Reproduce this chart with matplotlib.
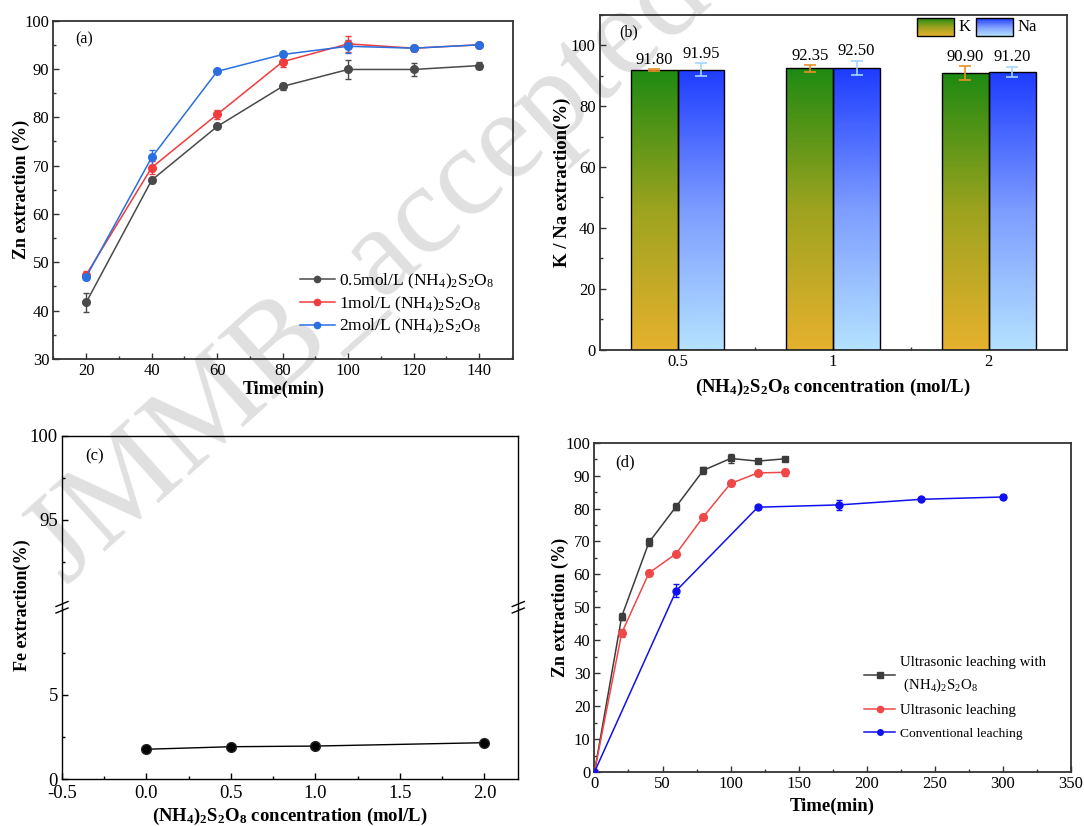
import numpy as np
import matplotlib
matplotlib.use("Agg")
import matplotlib.pyplot as plt
from matplotlib.colors import LinearSegmentedColormap
from matplotlib.lines import Line2D
from matplotlib.patches import Rectangle
from matplotlib.ticker import MultipleLocator

plt.rcParams["font.family"] = ["Liberation Serif", "DejaVu Serif"]
plt.rcParams["mathtext.fontset"] = "custom"
plt.rcParams["mathtext.rm"] = "Liberation Serif"
plt.rcParams["mathtext.it"] = "Liberation Serif:italic"
plt.rcParams["mathtext.bf"] = "Liberation Serif:bold"

PS = "(NH$_4$)$_2$S$_2$O$_8$"
PS_BOLD = r"(NH$_\mathbf{4}$)$_\mathbf{2}$S$_\mathbf{2}$O$_\mathbf{8}$"

# (a) Zn extraction vs time for three persulfate concentrations
time_a = [20, 40, 60, 80, 100, 120, 140]
zn_05 = [41.7, 67.0, 78.1, 86.4, 89.9, 89.9, 90.7]
zn_05_err = [2.0, 0.6, 0.4, 0.8, 1.9, 1.3, 0.7]
zn_1 = [47.4, 69.6, 80.6, 91.5, 95.2, 94.3, 95.0]
zn_1_err = [0.8, 1.3, 1.0, 1.0, 1.6, 0.5, 0.3]
zn_2 = [47.0, 71.7, 89.5, 93.0, 94.7, 94.3, 95.0]
zn_2_err = [0.6, 1.6, 0.2, 0.4, 1.3, 0.5, 0.3]
labels_a = ["0.5mol/L " + PS, "1mol/L " + PS, "2mol/L " + PS]

# (b) K / Na extraction
conc_b = ["0.5", "1", "2"]
k_ext = [91.80, 92.35, 90.90]
k_err = [0.3, 1.1, 2.2]
na_ext = [91.95, 92.50, 91.20]
na_err = [2.1, 2.3, 1.7]

# (c) Fe extraction
conc_c = [0.0, 0.5, 1.0, 2.0]
fe_ext = [1.77, 1.92, 1.96, 2.16]

# (d) leaching methods compared
t_us_ps = [0, 20, 40, 60, 80, 100, 120, 140]
zn_us_ps = [0, 47.2, 69.7, 80.6, 91.6, 95.2, 94.4, 95.1]
zn_us_ps_err = [0, 1.0, 1.2, 1.0, 1.0, 1.5, 0.5, 0.4]
t_us = [0, 20, 40, 60, 80, 100, 120, 140]
zn_us = [0, 42.2, 60.4, 66.3, 77.5, 87.6, 90.8, 91.0]
zn_us_err = [0, 1.2, 0.8, 0.8, 0.5, 0.9, 0.3, 1.0]
t_conv = [0, 60, 120, 180, 240, 300]
zn_conv = [0, 55.0, 80.4, 81.1, 82.8, 83.5]
zn_conv_err = [0, 2.0, 0.6, 1.4, 0.3, 0.7]
labels_d = ["Ultrasonic leaching with\n " + PS, "Ultrasonic leaching", "Conventional leaching"]


def style(ax, color="#333333", lw=1.3, size=12):
    ax.set_facecolor("none")
    for s in ax.spines.values():
        s.set_linewidth(lw)
        s.set_color(color)
    ax.tick_params(which="both", direction="in", top=False, right=False,
                   labelsize=size, color=color, width=1, pad=3)
    ax.tick_params(which="major", length=4)
    ax.tick_params(which="minor", length=2.5)


def series(ax, x, y, err, color, marker, ms):
    ax.errorbar(x, y, yerr=err, fmt="none", ecolor=color, elinewidth=1,
                capsize=2.5, capthick=1, zorder=3)
    ax.plot(x, y, color=color, lw=1.1, marker=marker, ms=ms, mfc=color,
            mec=color, zorder=4)
    return Line2D([], [], color=color, lw=1.1, marker=marker, ms=ms - 1, mfc=color, mec=color)


fig = plt.figure(figsize=(10.84, 8.26), dpi=100)

fig.text(0.060, 0.292, "JMMB_accepted", rotation=42, rotation_mode="anchor",
         ha="left", va="baseline", fontsize=92, color="#e0e0e0", zorder=-5)

# ---- (a)
ax = fig.add_axes([0.0493, 0.5654, 0.4241, 0.4096])
style(ax)
handles = []
for y, e, c in [(zn_05, zn_05_err, "#4a4a4a"), (zn_1, zn_1_err, "#f03c3c"),
                (zn_2, zn_2_err, "#2a6fe0")]:
    handles.append(series(ax, time_a, y, e, c, "o", 5.5))
ax.set_xlim(10, 150.4)
ax.set_ylim(30, 100)
ax.xaxis.set_major_locator(MultipleLocator(20))
ax.xaxis.set_minor_locator(MultipleLocator(10))
ax.yaxis.set_major_locator(MultipleLocator(10))
ax.yaxis.set_minor_locator(MultipleLocator(5))
ax.set_xlabel("Time(min)", fontsize=13, fontweight="bold", labelpad=1)
ax.set_ylabel("Zn extraction (%)", fontsize=13, fontweight="bold")
ax.yaxis.set_label_coords(-0.051, 0.5)
ax.text(0.047, 0.944, "(a)", transform=ax.transAxes, fontsize=11.5, va="center")
ax.legend(handles, labels_a, loc="upper left", bbox_to_anchor=(0.536, 0.258),
          frameon=False, fontsize=12.5, handlelength=2.0, handletextpad=0.25,
          labelspacing=0.2, borderpad=0, borderaxespad=0)

# ---- (b)
ax = fig.add_axes([0.5532, 0.5766, 0.4308, 0.4056])
style(ax)
x = np.arange(len(conc_b))
w = 0.3
k_cmap = LinearSegmentedColormap.from_list("k", ["#e6b12e", "#9da31f", "#1f8a12"])
na_cmap = LinearSegmentedColormap.from_list("na", ["#b4e2ff", "#7d9dff", "#1e3cff"])
grad = np.linspace(0, 1, 256).reshape(-1, 1)
for xs, vals, errs, cmap, ecol in [(x - w / 2, k_ext, k_err, k_cmap, "#e8902a"),
                                   (x + w / 2, na_ext, na_err, na_cmap, "#a6d6ff")]:
    bars = ax.bar(xs, vals, width=w, facecolor="none", edgecolor="black", lw=1, zorder=3)
    for b in bars:
        im = ax.imshow(grad, extent=[b.get_x(), b.get_x() + b.get_width(), 0, b.get_height()],
                       origin="lower", aspect="auto", cmap=cmap, zorder=2)
        im.set_clip_path(b)
    ax.errorbar(xs, vals, yerr=errs, fmt="none", ecolor=ecol, elinewidth=1.2,
                capsize=4, capthick=1.2, zorder=4)
    for xi, v, e in zip(xs, vals, errs):
        ax.text(xi, v + e + 0.5, f"{v:.2f}", ha="center", va="bottom", fontsize=12)

for (x0, x1), cmap, name, tx in [((0.680, 0.758), k_cmap, "K", 0.782),
                                  ((0.806, 0.885), na_cmap, "Na", 0.915)]:
    ax.imshow(grad, extent=[x0, x1, 0.936, 0.989], origin="lower", aspect="auto",
              cmap=cmap, transform=ax.transAxes, zorder=5)
    ax.add_patch(Rectangle((x0, 0.936), x1 - x0, 0.053, transform=ax.transAxes,
                           fill=False, lw=1, ec="black", zorder=6))
    ax.text(tx, 0.962, name, transform=ax.transAxes, ha="center", va="center", fontsize=12)

ax.set_xlim(-0.5, 2.5)
ax.set_ylim(0, 110)
ax.set_xticks(x)
ax.set_xticklabels(conc_b)
ax.set_xticks([0.5, 1.5], minor=True)
ax.set_yticks(np.arange(0, 101, 20))
ax.yaxis.set_minor_locator(MultipleLocator(10))
ax.set_xlabel(PS_BOLD + " concentration (mol/L)", fontsize=13.5, fontweight="bold", labelpad=5)
ax.set_ylabel("K / Na extraction(%)", fontsize=13.5, fontweight="bold")
ax.yaxis.set_label_coords(-0.0615, 0.5)
ax.text(0.042, 0.946, "(b)", transform=ax.transAxes, fontsize=11.5, va="center")

# ---- (c) broken y axis
ax_lo = fig.add_axes([0.0572, 0.0569, 0.4209, 0.2076])
ax_hi = fig.add_axes([0.0572, 0.2645, 0.4209, 0.2080])
for a in (ax_lo, ax_hi):
    style(a, color="black", lw=1, size=13.5)
    a.set_xlim(-0.5, 2.2)
    a.xaxis.set_major_locator(MultipleLocator(0.5))
    a.xaxis.set_minor_locator(MultipleLocator(0.25))
ax_lo.spines["top"].set_visible(False)
ax_hi.spines["bottom"].set_visible(False)
ax_hi.tick_params(axis="x", which="both", bottom=False, labelbottom=False)
ax_lo.tick_params(axis="x", pad=4)
ax_lo.plot(conc_c, fe_ext, color="black", lw=1, marker="o", ms=7, mfc="black",
           mec="#222222", zorder=4)
ax_lo.set_ylim(0, 10.2)
ax_lo.set_yticks([0, 5])
ax_lo.set_yticks([2.5, 7.5], minor=True)
ax_hi.set_ylim(89.8, 100)
ax_hi.set_yticks([95, 100])
ax_hi.set_yticks([92.5, 97.5], minor=True)
ax_lo.xaxis.set_major_formatter(lambda v, p: f"{v:.1f}")
ax_lo.set_xlabel(PS_BOLD + " concentration (mol/L)", fontsize=13.5, fontweight="bold", labelpad=3)
ax_hi.text(0.05, 0.88, "(c)", transform=ax_hi.transAxes, fontsize=12, va="center")
fig.text(22.4 / 1084, 1 - 605 / 826, "Fe extraction(%)", rotation=90, ha="center",
         va="center", fontsize=13, fontweight="bold")
# break marks on both spines
dx = 6 / 456.2
dy = 2.5 / 171.5
for xs in (0, 1):
    for off in (3.5 / 171.5, -3.0 / 171.5):
        ax_lo.plot([xs - dx, xs + dx], [1 + off - dy, 1 + off + dy], transform=ax_lo.transAxes,
                   color="black", lw=1, clip_on=False, zorder=6)

# ---- (d)
ax = fig.add_axes([0.5484, 0.0654, 0.4395, 0.3987])
style(ax)
hd = [series(ax, t_us_ps, zn_us_ps, zn_us_ps_err, "#3c3c3c", "s", 5),
      series(ax, t_us, zn_us, zn_us_err, "#f04848", "o", 5.5),
      series(ax, t_conv, zn_conv, zn_conv_err, "#1010f0", "o", 5)]
ax.set_xlim(0, 350)
ax.set_ylim(0, 100)
ax.xaxis.set_major_locator(MultipleLocator(50))
ax.xaxis.set_minor_locator(MultipleLocator(25))
ax.yaxis.set_major_locator(MultipleLocator(10))
ax.yaxis.set_minor_locator(MultipleLocator(5))
ax.set_xlabel("Time(min)", fontsize=13.5, fontweight="bold", labelpad=4)
ax.set_ylabel("Zn extraction (%)", fontsize=13, fontweight="bold")
ax.yaxis.set_label_coords(-0.0535, 0.5)
ax.text(0.044, 0.94, "(d)", transform=ax.transAxes, fontsize=12, va="center")
leg = ax.legend(hd, labels_d, loc="upper left", bbox_to_anchor=(0.566, 0.352),
                frameon=False, fontsize=10.7, handlelength=2.1, handletextpad=0.3,
                labelspacing=0.65, borderpad=0, borderaxespad=0)
leg.get_texts()[0].set_linespacing(1.6)
leg.get_texts()[2].set_fontsize(9.7)

fig.savefig("out.png", dpi=100)
